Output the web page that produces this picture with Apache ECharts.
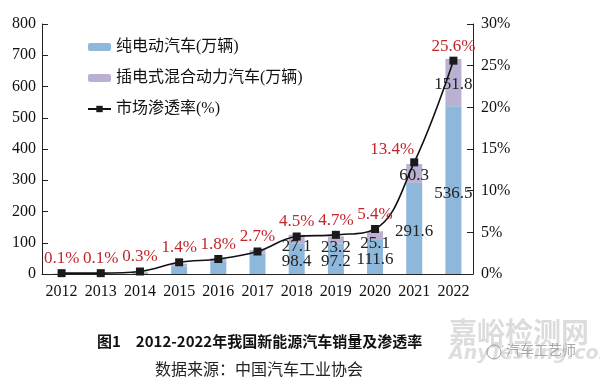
<!DOCTYPE html>
<html>
<head>
<meta charset="utf-8">
<script src="https://cdn.jsdelivr.net/npm/echarts@6/dist/echarts.min.js"></script>
<style>
html,body{margin:0;padding:0;background:#fff;}
#c{width:600px;height:380px;}
</style>
</head>
<body>
<div id="c"></div>
<script>
var years = ['2012','2013','2014','2015','2016','2017','2018','2019','2020','2021','2022'];
var bev = [1.1, 1.5, 4.5, 24.7, 40.9, 65.2, 98.4, 97.2, 111.6, 291.6, 536.5];
var phev = [0.2, 0.3, 3.0, 8.4, 9.8, 11.1, 27.1, 23.2, 25.1, 60.3, 151.8];
var rate = [0.1, 0.1, 0.3, 1.4, 1.8, 2.7, 4.5, 4.7, 5.4, 13.4, 25.6];
var leftTicks = [0, 800, 100];
var rightTicks = [0, 30, 5];
var names = ['纯电动汽车(万辆)', '插电式混合动力汽车(万辆)', '市场渗透率(%)'];
var caption = '图1　2012-2022年我国新能源汽车销量及渗透率';
var source = '数据来源：中国汽车工业协会';

var SERIF = '"Liberation Serif","Times New Roman","Noto Sans CJK SC",serif';
var CJK = '"Liberation Serif","Noto Sans CJK SC",sans-serif';
var firstLabelIdx = 6;

function barLabelFmt(p){ return p.dataIndex >= firstLabelIdx ? String(p.value) : ''; }

var phevData = phev.map(function(v){
  return {value: v, label: {offset: [0, v < 30 ? 8 : 2]}};
});
var rateData = rate.map(function(v, i){
  return i === 9 ? {value: v, label: {offset: [-22, 2]}} : v;
});

var chart = echarts.init(document.getElementById('c'), null, {renderer: 'canvas'});
chart.setOption({
  animation: false,
  backgroundColor: '#fff',
  grid: {left: 42, right: 127, top: 24, bottom: 106, containLabel: false},
  legend: {
    orient: 'vertical', left: 82, top: 34,
    itemWidth: 23, itemHeight: 8, itemGap: 15,
    textStyle: {fontFamily: CJK, fontSize: 16, color: '#111'},
    data: names
  },
  xAxis: {
    type: 'category', data: years,
    axisLine: {lineStyle: {color: '#222', width: 1}},
    axisTick: {inside: true, length: 7, lineStyle: {color: '#222'}},
    axisLabel: {interval: 0, fontFamily: SERIF, fontSize: 16, color: '#111', margin: 10}
  },
  yAxis: [{
    type: 'value', min: leftTicks[0], max: leftTicks[1], interval: leftTicks[2],
    splitLine: {show: false},
    axisLine: {show: true, lineStyle: {color: '#222'}},
    axisTick: {show: true, inside: true, length: 6, lineStyle: {color: '#222'}},
    axisLabel: {fontFamily: SERIF, fontSize: 16, color: '#111', margin: 6}
  }, {
    type: 'value', min: rightTicks[0], max: rightTicks[1], interval: rightTicks[2],
    splitLine: {show: false},
    axisLine: {show: true, lineStyle: {color: '#222'}},
    axisTick: {show: true, inside: true, length: 6, lineStyle: {color: '#222'}},
    axisLabel: {fontFamily: SERIF, fontSize: 16, color: '#111', margin: 8, formatter: '{value}%'}
  }],
  series: [{
    name: names[0], type: 'bar', stack: 's', barWidth: 16,
    itemStyle: {color: '#8db8dc'},
    label: {show: true, position: 'inside', formatter: barLabelFmt, fontFamily: SERIF, fontSize: 17, color: '#222', offset: [0, 3]},
    data: bev
  }, {
    name: names[1], type: 'bar', stack: 's', barWidth: 16,
    itemStyle: {color: '#bab0d2'},
    label: {show: true, position: 'inside', formatter: barLabelFmt, fontFamily: SERIF, fontSize: 17, color: '#222'},
    data: phevData
  }, {
    name: names[2], type: 'line', yAxisIndex: 1, smooth: 0.4,
    symbol: 'rect', symbolSize: 8,
    itemStyle: {color: '#1a1a1a'},
    lineStyle: {color: '#111', width: 1.6},
    label: {show: true, position: 'top', distance: 2, formatter: '{c}%', fontFamily: SERIF, fontSize: 17, color: '#c0262c'},
    z: 5,
    data: rateData
  }],
  graphic: [
    {type: 'text', left: 97, top: 334, style: {text: caption, font: 'bold 15px "Noto Sans CJK SC", sans-serif', fill: '#111'}},
    {type: 'text', left: 155, top: 361, style: {text: source, font: '16px "Noto Sans CJK SC", sans-serif', fill: '#222'}},
    {type: 'text', left: 449, top: 318, style: {text: '嘉峪检测网', font: 'bold 28px "Noto Sans CJK SC", sans-serif', fill: '#dcdcdc'}},
    {type: 'text', left: 449, top: 345, style: {text: 'AnyTesting.com', font: 'italic bold 19px "DejaVu Sans", sans-serif', fill: '#dedede'}},
    {type: 'circle', shape: {cx: 494, cy: 352, r: 7}, style: {fill: 'none', stroke: '#9a9a9a', lineWidth: 1}},
    {type: 'text', left: 506, top: 343, style: {text: '汽车工艺师', font: '14px "Noto Sans CJK SC", sans-serif', fill: '#a8a8a8'}}
  ]
});
</script>
</body>
</html>
